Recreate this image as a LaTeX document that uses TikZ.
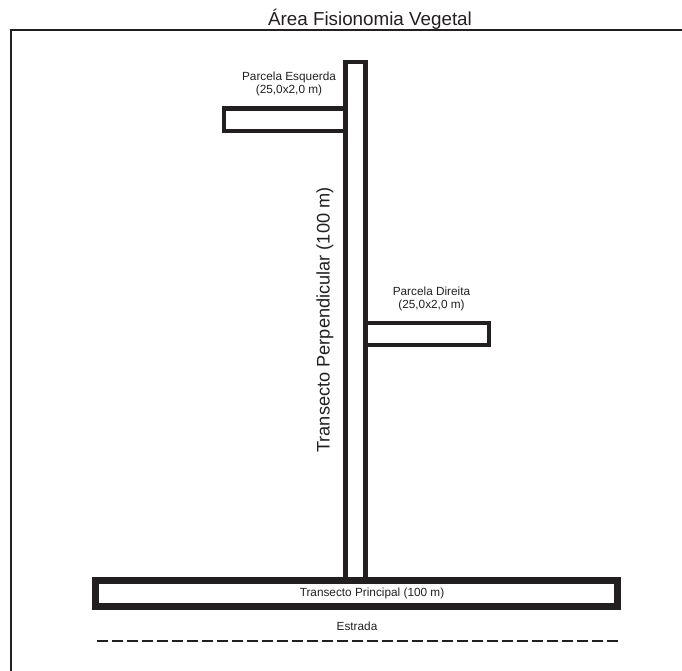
\documentclass[tikz,border=0pt]{standalone}
\usepackage{fontspec}
\setmainfont{Liberation Sans}
\usetikzlibrary{positioning}
\definecolor{ink}{HTML}{231F20}

\begin{document}
\begin{tikzpicture}[x=1pt, y=-1pt, color=ink]
        \tikzset{plotbox/.style={draw, rectangle, line width=4.5pt, inner sep=0pt}}
        \tikzset{lbl/.style={align=center, inner sep=0pt, font=\fontsize{11.8}{13}\selectfont}}
        \tikzset{road/.style={line width=1.3pt, dash pattern=on 11pt off 4pt}}
        \useasboundingbox (0,0) rectangle (682,671);
        \draw[line width=2.5pt] (682,30) -- (11,30) -- (11,671);
        \node[font=\fontsize{18.8}{20}\selectfont] (title) at (370,19) {Área Fisionomia Vegetal};
        \node[plotbox, minimum width=20pt, minimum height=518pt] (perp) at (355.5,321) {};
        \node[rotate=90, font=\fontsize{18.2}{20}\selectfont] (perplabel) at (325,320) {Transecto Perpendicular (100 m)};
        \node[plotbox, minimum width=121.5pt, minimum height=22.5pt] (esq) at (284.75,119.75) {};
        \node[lbl] (esqlabel) at (289,84) {Parcela Esquerda\\(25,0x2,0 m)};
        \node[plotbox, minimum width=123.5pt, minimum height=22pt] (dir) at (427.25,334) {};
        \node[lbl] (dirlabel) at (431.5,298.5) {Parcela Direita\\(25,0x2,0 m)};
        \node[plotbox, line width=7pt, minimum width=522pt, minimum height=26pt] (princ) at (356.5,593) {};
        \node[lbl] (princlabel) at (372,593) {Transecto Principal (100 m)};
        \node[lbl] (estrada) at (357,626) {Estrada};
        \coordinate (roadW) at (97,641);
        \coordinate (roadE) at (620,641);
        \draw[road] (roadW) -- (roadE);
    \end{tikzpicture}
\end{document}
